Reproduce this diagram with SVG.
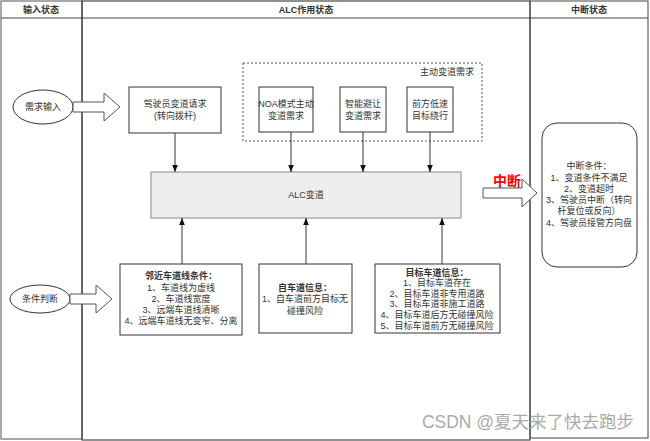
<svg xmlns="http://www.w3.org/2000/svg" width="650" height="441" viewBox="0 0 650 441">
<defs>
<style>
text{font-family:"Liberation Sans","Noto Sans CJK SC",sans-serif;fill:#333;}
.h{font-size:9px;font-weight:bold;text-anchor:middle;}
.t{font-size:9px;text-anchor:middle;}
.b{font-weight:bold;}
.box{fill:#fff;stroke:#333;stroke-width:1;}
.ln{stroke:#333;stroke-width:1;fill:none;}
.bar{fill:#fff;stroke:#555;stroke-width:1;}
</style>
<marker id="ah" viewBox="0 0 10 10" refX="10" refY="5" markerWidth="7" markerHeight="7" orient="auto">
<path d="M0,1 L10,5 L0,9 Z" fill="#111"/>
</marker>
</defs>
<rect width="650" height="441" fill="#fff"/>
<g id="lanes">
<rect x="1" y="1" width="81" height="438" fill="none" stroke="#555"/>
<rect x="82" y="1" width="448" height="439" fill="none" stroke="#222"/>
<rect x="530" y="1" width="118" height="437" fill="none" stroke="#444"/>
<line x1="1" y1="18" x2="648" y2="18" stroke="#444"/>
<text class="h" x="41" y="13">输入状态</text>
<text class="h" x="306" y="13">ALC作用状态</text>
<text class="h" x="589" y="13">中断状态</text>
</g>
<g id="group-active">
<rect x="243" y="63" width="239" height="78" fill="none" stroke="#555" stroke-dasharray="2,2"/>
<text class="t" x="474" y="75" style="text-anchor:end">主动变道需求</text>
</g>
<g id="n-demand">
<ellipse cx="43" cy="107" rx="30" ry="17" class="box" stroke="#444"/>
<text class="t" x="43" y="110">需求输入</text>
</g>
<g id="n-cond">
<ellipse cx="40" cy="299" rx="30" ry="14" class="box" stroke="#444"/>
<text class="t" x="40" y="302">条件判断</text>
</g>
<g id="n-driver">
<rect x="129" y="87" width="92" height="46" class="box"/>
<text class="t" x="175" y="107">驾驶员变道请求</text>
<text class="t" x="175" y="119">(转向拨杆)</text>
</g>
<g id="n-noa">
<rect x="259" y="87" width="54" height="45" class="box"/>
<text class="t" x="286" y="107">NOA模式主动</text>
<text class="t" x="286" y="119">变道需求</text>
</g>
<g id="n-avoid">
<rect x="340" y="87" width="46" height="45" class="box"/>
<text class="t" x="363" y="107">智能避让</text>
<text class="t" x="363" y="119">变道需求</text>
</g>
<g id="n-slow">
<rect x="407" y="87" width="46" height="45" class="box"/>
<text class="t" x="430" y="107">前方低速</text>
<text class="t" x="430" y="119">目标绕行</text>
</g>
<g id="n-alc">
<rect x="151" y="172" width="310" height="46" fill="#eeeeee" stroke="#888"/>
<text class="t" x="306" y="198">ALC变道</text>
</g>
<g id="n-lane">
<rect x="120" y="264" width="122" height="71" class="box"/>
<text class="t b" x="181" y="279">邻近车道线条件：</text>
<text class="t" x="181" y="291">1、车道线为虚线</text>
<text class="t" x="181" y="302">2、车道线宽度</text>
<text class="t" x="181" y="313">3、远端车道线清晰</text>
<text class="t" x="181" y="324">4、远端车道线无变窄、分离</text>
</g>
<g id="n-ego">
<rect x="259" y="264" width="93" height="69" class="box"/>
<text class="t b" x="305" y="291">自车道信息：</text>
<text class="t" x="305" y="302">1、自车道前方目标无</text>
<text class="t" x="305" y="314">碰撞风险</text>
</g>
<g id="n-target">
<rect x="375" y="264" width="125" height="69" class="box"/>
<text class="t b" x="437" y="276">目标车道信息：</text>
<text class="t" x="437" y="286">1、目标车道存在</text>
<text class="t" x="437" y="297">2、目标车道非专用道路</text>
<text class="t" x="437" y="307">3、目标车道非施工道路</text>
<text class="t" x="437" y="318">4、目标车道后方无碰撞风险</text>
<text class="t" x="437" y="329">5、目标车道前方无碰撞风险</text>
</g>
<g id="n-interrupt">
<rect x="542" y="123" width="95" height="144" rx="15" ry="15" class="box" stroke="#555"/>
<text class="t" x="589" y="169">中断条件：</text>
<text class="t" x="589" y="181">1、变道条件不满足</text>
<text class="t" x="589" y="192">2、变道超时</text>
<text class="t" x="589" y="203">3、驾驶员中断（转向</text>
<text class="t" x="589" y="214">杆复位或反向）</text>
<text class="t" x="589" y="226">4、驾驶员接管方向盘</text>
</g>
<g id="connectors">
<path class="bar" d="M73,102 L104,102 L104,93 L120,107 L104,121 L104,112 L73,112 Z"/>
<path class="bar" d="M70,294 L96,294 L96,285 L112,299 L96,313 L96,304 L70,304 Z"/>
<path class="bar" d="M483,188 L522,188 L522,179 L537,193 L522,207 L522,198 L483,198 Z"/>
<line class="ln" x1="175" y1="133" x2="175" y2="172" marker-end="url(#ah)"/>
<line class="ln" x1="291" y1="132" x2="291" y2="172" marker-end="url(#ah)"/>
<line class="ln" x1="363" y1="132" x2="363" y2="172" marker-end="url(#ah)"/>
<line class="ln" x1="430" y1="132" x2="430" y2="172" marker-end="url(#ah)"/>
<line class="ln" x1="182" y1="264" x2="182" y2="218" marker-end="url(#ah)"/>
<line class="ln" x1="306" y1="264" x2="306" y2="218" marker-end="url(#ah)"/>
<line class="ln" x1="442" y1="264" x2="442" y2="218" marker-end="url(#ah)"/>
<text x="507" y="186" style="font-size:14px;font-weight:bold;fill:#ff0000;text-anchor:middle">中断</text>
</g>
<text x="528" y="428" style="font-size:17.5px;fill:#aaa;text-anchor:middle">CSDN @夏天来了快去跑步</text>
</svg>
